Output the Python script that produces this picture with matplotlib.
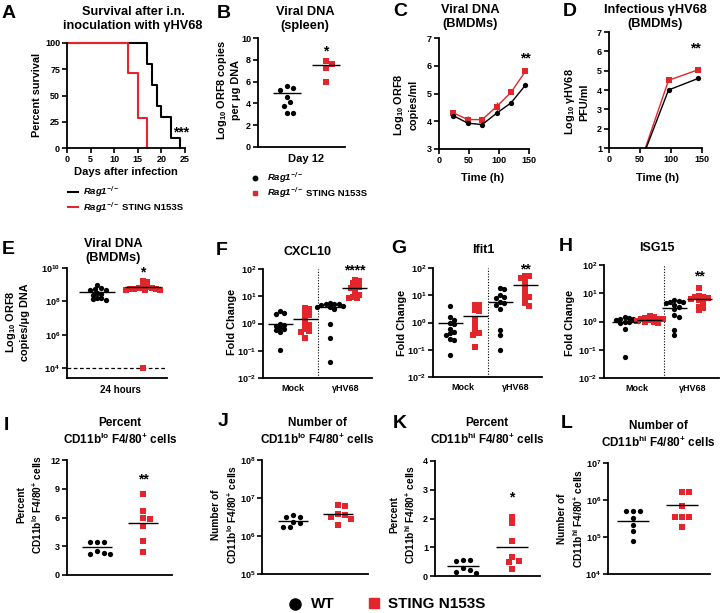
import numpy as np
import matplotlib
matplotlib.use("Agg")
import matplotlib.pyplot as plt
from matplotlib.lines import Line2D
from matplotlib.ticker import NullLocator

plt.rcParams['font.family'] = ['Liberation Sans', 'DejaVu Sans']
plt.rcParams['font.weight'] = 'bold'
plt.rcParams['axes.labelweight'] = 'bold'
plt.rcParams['mathtext.default'] = 'regular'

RED = '#e3262b'
BLK = '#000000'

# ---------------- data ----------------
# A: survival
surv_days_wt = [0, 17, 18, 19, 20, 22, 24]
surv_pct_wt = [100, 80, 60, 40, 30, 10, 0]
surv_days_mut = [0, 13, 15, 17]
surv_pct_mut = [100, 71.4, 28.6, 0]

# B: viral DNA spleen (log10)
b_wt = [5.4, 5.2, 5.6, 4.6, 4.15, 3.75, 3.1, 3.15]
b_mut = [7.65, 7.87, 7.25, 5.98]
b_lines = [5.0, 7.5]

# C: viral DNA BMDMs time course (log10)
c_time = [24, 48, 72, 96, 120, 144]
c_wt = [4.2, 3.93, 3.88, 4.29, 4.66, 5.3]
c_wt_err = [0.05, 0.06, 0.1, 0.08, 0.04, 0.04]
c_mut = [4.3, 4.06, 4.06, 4.53, 5.04, 5.8]
c_mut_err = [0.05, 0.12, 0.05, 0.15, 0.05, 0.05]

# D: infectious virus (log10 PFU)
d_time = [48, 96, 144]
d_wt = [0, 4.0, 4.6]
d_wt_err = [0, 0.12, 0.06]
d_mut = [0, 4.5, 5.05]
d_mut_err = [0, 0.05, 0.08]

# E: viral DNA BMDMs 24 h (log10)
e_wt = [8.8, 8.7, 8.7, 8.75, 8.95, 8.45, 8.2, 8.1, 8.15, 8.2, 8.4, 8.5]
e_mut = [9.15, 9.23, 8.85, 8.73, 8.7, 8.73, 8.8, 8.85, 8.75, 8.65, 8.7, 8.8, 4.0]
e_lines = [8.55, 8.85]
e_limit = 4.0

# F/G/H: fold change (log10), groups: mock WT, mock mut, gHV68 WT, gHV68 mut
f_groups = [
    [0.4, 0.45, 0.35, 0.0, -0.1, -0.2, -0.3, -0.25, -0.15, -0.05, -0.98],
    [0.56, 0.52, 0.38, 0.2, 0.0, -0.05, -0.2, -0.3, -0.27, -0.55, 0.3],
    [0.75, 0.7, 0.65, 0.7, 0.6, 0.72, 0.68, 0.62, 0.55, -0.02, -0.55, -1.43],
    [1.55, 1.6, 1.48, 1.33, 1.3, 1.35, 1.11, 1.05, 0.93, 0.95, 0.98],
]
f_lines = [0.0, 0.17, 0.6, 1.3]
g_groups = [
    [0.62, 0.2, 0.1, 0.0, -0.05, -0.25, -0.35, -0.4, -0.45, -0.65, -0.62, -1.2],
    [0.65, 0.65, 0.45, 0.42, 0.12, -0.08, -0.33, -0.45, -0.4, -0.9],
    [1.24, 1.27, 1.0, 0.9, 0.95, 0.7, 0.65, 0.75, 0.5, -0.29, -0.47, -1.02],
    [1.7, 1.65, 1.7, 1.55, 1.35, 0.9, 0.95, 0.7, 0.62, 1.2, 1.05],
]
g_lines = [-0.02, 0.24, 0.75, 1.36]
h_groups = [
    [0.15, 0.12, 0.08, 0.05, 0.0, -0.05, 0.03, 0.1, -0.02, -0.28, -1.25],
    [0.18, 0.15, 0.12, 0.1, 0.08, 0.05, 0.03, 0.0, -0.03, -0.05, 0.1],
    [0.75, 0.7, 0.65, 0.6, 0.72, 0.5, 0.45, 0.24, 0.17, -0.47, -0.3, 0.68],
    [1.18, 0.88, 0.85, 0.9, 0.82, 0.8, 0.65, 0.53, 0.47, 0.4, 0.75],
]
h_lines = [0.0, 0.05, 0.47, 0.79]

# I-L: macrophage populations
i_wt = [3.4, 3.4, 3.4, 2.3, 2.2, 2.2, 2.55]
i_mut = [8.5, 6.7, 5.9, 5.8, 5.1, 3.55, 2.37]
i_lines = [2.92, 5.4]
j_wt = [6.49, 6.51, 6.54, 6.38, 6.25, 6.25, 6.35]          # log10
j_mut = [6.79, 6.82, 6.55, 6.58, 6.49, 6.29, 6.45]
j_lines = [6.40, 6.59]
k_wt = [0.51, 0.55, 0.57, 0.29, 0.22, 0.1, 0.14]
k_mut = [2.06, 1.83, 1.21, 0.66, 0.51, 0.49, 0.23]
k_lines = [0.34, 1.01]
l_wt = [5.69, 5.71, 5.69, 5.51, 5.33, 5.15, 4.9]            # log10
l_mut = [6.21, 6.21, 5.83, 5.54, 5.54, 5.55, 5.27]
l_lines = [5.44, 5.86]

fc_cats = ['Mock', 'γHV68']

# ---------------- layout helpers ----------------
W, H = 720, 613
fig = plt.figure(figsize=(W / 100, H / 100), dpi=100)


def ax_px(l, t, r, b):
    return fig.add_axes([l / W, 1 - b / H, (r - l) / W, (b - t) / H])


def style(ax, log=False):
    for s in ['top', 'right']:
        ax.spines[s].set_visible(False)
    for s in ['left', 'bottom']:
        ax.spines[s].set_linewidth(1.3)
    ax.tick_params(width=1.2, length=3.5, labelsize=6.5, pad=1.5)
    if log:
        ax.yaxis.set_minor_locator(NullLocator())


def ftext(x, y, s, **kw):
    return fig.text(x / W, 1 - y / H, s, **kw)


def swarm_x(ax, xc, yvals, d=3.8):
    yvals = np.asarray(yvals, float)
    pts = ax.transData.transform(np.column_stack([np.full(len(yvals), xc), yvals]))
    ypx = pts[:, 1]
    x0 = pts[0, 0]
    placed = []
    xs = np.zeros(len(yvals))
    for i in np.argsort(-ypx):
        k = 0
        off = None
        while off is None:
            cands = [0.0] if k == 0 else [k * d * 0.6, -k * d * 0.6]
            for c in cands:
                if all((c - px) ** 2 + (ypx[i] - py) ** 2 >= d * d for px, py in placed):
                    off = c
                    break
            k += 1
        placed.append((off, ypx[i]))
        xs[i] = x0 + off
    back = ax.transData.inverted().transform(np.column_stack([xs, ypx]))
    return back[:, 0]


def dots(ax, xc, vals, color, marker, hw, line_val, ms=3.8, d=4.6):
    xs = swarm_x(ax, xc, vals, d=d)
    ax.plot(xs, vals, linestyle='none', marker=marker, color=color, ms=ms,
            markeredgewidth=0, clip_on=False, zorder=3)
    ax.hlines(line_val, xc - hw, xc + hw, color=BLK, lw=1.0, zorder=4)


TITLE = dict(fontsize=9.2, ha='center', va='center', linespacing=1.15)
TITLE2 = dict(fontsize=8.5, ha='center', va='center', linespacing=1.2)
YLAB = dict(fontsize=7.8, ha='center', va='center', rotation=90, linespacing=1.3)
YLAB2 = dict(fontsize=7.3, ha='center', va='center', rotation=90, linespacing=1.3)
LET = dict(fontsize=14, ha='center', va='center')
STAR = dict(fontsize=10, ha='center', va='center')

# ---------------- A ----------------
ax = ax_px(67, 43, 185, 148)
style(ax)
ax.plot(surv_days_wt, surv_pct_wt, drawstyle='steps-post', color=BLK, lw=1.5, clip_on=False)
ax.plot(surv_days_mut, surv_pct_mut, drawstyle='steps-post', color=RED, lw=1.5, clip_on=False)
ax.set_xlim(0, 25)
ax.set_ylim(0, 100)
ax.set_xticks([0, 5, 10, 15, 20, 25])
ax.set_yticks([0, 25, 50, 75, 100])
ax.text(24.2, 15, '***', **STAR)
ftext(126, 172, 'Days after infection', fontsize=8, ha='center', va='center')
ftext(37, 95, 'Percent survival', **YLAB)
ftext(133, 19, 'Survival after i.n.\ninoculation with γHV68', **TITLE)
ftext(8.5, 13, 'A', **LET)

# legend for A
fig.add_artist(Line2D([68 / W, 78 / W], [1 - 192 / H] * 2, color=BLK, lw=1.5, transform=fig.transFigure))
fig.add_artist(Line2D([68 / W, 78 / W], [1 - 207 / H] * 2, color=RED, lw=1.5, transform=fig.transFigure))
ftext(83, 192, r'Rag1$^{-/-}$', fontsize=6.8, style='italic', va='center')
ta = ftext(83, 207.5, r'Rag1$^{-/-}$', fontsize=6.8, style='italic', va='center')

# ---------------- B ----------------
ax = ax_px(258, 38, 345, 147)
style(ax)
ax.set_xlim(-0.74, 1.49)
ax.set_ylim(0, 10)
ax.set_yticks([0, 2, 4, 6, 8, 10])
ax.set_xticks([0.5])
ax.set_xticklabels(['Day 12'], fontsize=8)
ax.tick_params(axis='x', length=0, pad=5)
dots(ax, 0, b_wt, BLK, 'o', 0.36, b_lines[0], d=5.5)
dots(ax, 1, b_mut, RED, 's', 0.36, b_lines[1], d=5.5)
ax.text(1, 8.8, '*', **STAR)
ftext(228, 90, 'Log$_{10}$ ORF8 copies\nper μg DNA', **YLAB)
ftext(305, 19, 'Viral DNA\n(spleen)', **TITLE)
ftext(224, 13, 'B', **LET)
# legend for B
fig.add_artist(Line2D([255 / W], [1 - 178 / H], marker='o', ms=3.2, color=BLK, lw=0, transform=fig.transFigure))
fig.add_artist(Line2D([255 / W], [1 - 193 / H], marker='s', ms=3.2, color=RED, lw=0, transform=fig.transFigure))
ftext(267, 178, r'Rag1$^{-/-}$', fontsize=6.8, style='italic', va='center')
tb = ftext(267, 193, r'Rag1$^{-/-}$', fontsize=6.8, style='italic', va='center')

# ---------------- C ----------------
ax = ax_px(439, 38, 529, 149)
style(ax)
ax.errorbar(c_time, c_wt, yerr=c_wt_err, color=BLK, marker='o', ms=3.8, lw=1.0,
            capsize=1.8, elinewidth=1.0, markeredgewidth=0, zorder=3)
ax.errorbar(c_time, c_mut, yerr=c_mut_err, color=RED, marker='s', ms=3.8, lw=1.0,
            capsize=1.8, elinewidth=1.0, markeredgewidth=0, zorder=2)
ax.set_xlim(0, 150)
ax.set_ylim(3, 7)
ax.set_xticks([0, 50, 100, 150])
ax.set_yticks([3, 4, 5, 6, 7])
ax.text(144, 6.25, '**', **STAR)
ftext(483, 178, 'Time (h)', fontsize=8, ha='center', va='center')
ftext(405, 105, 'Log$_{10}$ ORF8\ncopies/ml', **YLAB)
ftext(470, 17, 'Viral DNA\n(BMDMs)', **TITLE)
ftext(400, 12, 'C', **LET)

# ---------------- D ----------------
ax = ax_px(609, 32, 702, 148)
style(ax)
ax.errorbar(d_time, d_wt, yerr=d_wt_err, color=BLK, marker='o', ms=3.8, lw=1.0,
            capsize=1.8, elinewidth=1.0, markeredgewidth=0, zorder=3)
ax.errorbar(d_time, d_mut, yerr=d_mut_err, color=RED, marker='s', ms=3.8, lw=1.0,
            capsize=1.8, elinewidth=1.0, markeredgewidth=0, zorder=2)
ax.set_xlim(0, 150)
ax.set_ylim(1, 7)
ax.set_xticks([0, 50, 100, 150])
ax.set_yticks([1, 2, 3, 4, 5, 6, 7])
ax.text(140, 6.15, '**', **STAR)
ftext(658, 178, 'Time (h)', fontsize=8, ha='center', va='center')
ftext(576, 102, 'Log$_{10}$ γHV68\nPFU/ml', **YLAB)
ftext(655, 17, 'Infectious γHV68\n(BMDMs)', **TITLE)
ftext(570, 12, 'D', **LET)

# ---------------- E ----------------
ax = ax_px(67, 268, 167, 378)
style(ax, log=True)
ax.set_yscale('log')
ax.set_ylim(10 ** 3.4, 1e10)
ax.set_yticks([1e4, 1e6, 1e8, 1e10])
ax.yaxis.set_minor_locator(NullLocator())
ax.set_xlim(-0.65, 1.52)
ax.set_xticks([0.5])
ax.set_xticklabels(['24 hours'], fontsize=7)
ax.tick_params(axis='x', length=0, pad=5)
ax.axhline(10 ** e_limit, color=BLK, lw=0.9, ls=(0, (3, 2)), zorder=1)
ew = 10 ** np.array(e_wt)
em = 10 ** np.array(e_mut)
dots(ax, 0, ew, BLK, 'o', 0.4, 10 ** e_lines[0], d=3.6)
dots(ax, 1, em, RED, 's', 0.4, 10 ** e_lines[1], d=3.6)
ax.text(1, 10 ** 9.75, '*', **STAR)
ftext(17, 322, 'Log$_{10}$ ORF8\ncopies/μg DNA', **YLAB)
ftext(113, 251, 'Viral DNA\n(BMDMs)', **TITLE)
ftext(8, 249, 'E', **LET)


# ---------------- F, G, H ----------------
def fold_panel(rect, xl, groups, lines, sep, cat_x, title, tpos, ylpos, stars, spos):
    ax = ax_px(*rect)
    style(ax, log=True)
    ax.set_yscale('log')
    ax.set_ylim(1e-2, 1e2)
    ax.set_yticks([1e-2, 1e-1, 1, 1e1, 1e2])
    ax.yaxis.set_minor_locator(NullLocator())
    ax.set_xlim(*xl)
    ax.set_xticks(cat_x)
    ax.set_xticklabels(fc_cats, fontsize=6.5)
    ax.tick_params(axis='x', length=0, pad=4)
    ax.axvline(sep, color=BLK, lw=0.8, ls=(0, (1, 1.5)), zorder=1)
    cols = [BLK, RED, BLK, RED]
    mks = ['o', 's', 'o', 's']
    for gi, (vals, lv) in enumerate(zip(groups, lines)):
        v = 10 ** np.array(vals)
        dots(ax, gi, v, cols[gi], mks[gi], 0.5, 10 ** lv, d=3.6)
    ax.text(3, 10 ** spos, stars, **STAR)
    ftext(ylpos[0], ylpos[1], 'Fold Change', **YLAB)
    ftext(tpos[0], tpos[1], title, fontsize=9, ha='center', va='center')
    return ax


fold_panel((263, 269, 372, 378), (-0.68, 3.68), f_groups, f_lines, 1.52, [0.5, 2.65],
           'CXCL10', (308, 252), (232, 322), '****', 1.95)
ftext(222, 250, 'F', **LET)
fold_panel((433, 268, 542, 377), (-0.68, 3.68), g_groups, g_lines, 1.52, [0.5, 2.65],
           'Ifit1', (483, 250), (402, 323), '**', 1.95)
ftext(399, 248, 'G', **LET)
fold_panel((604, 265, 719, 378), (-0.84, 3.8), h_groups, h_lines, 1.6, [0.5, 2.75],
           'ISG15', (657, 248), (570, 323), '**', 1.6)
ftext(566, 247, 'H', **LET)


# ---------------- I-L ----------------
def two_group(rect, xl, wt, mut, lines, log, ylim, yticks):
    ax = ax_px(*rect)
    style(ax, log=log)
    if log:
        ax.set_yscale('log')
        wt = 10 ** np.array(wt)
        mut = 10 ** np.array(mut)
        lines = [10 ** v for v in lines]
        ax.yaxis.set_minor_locator(NullLocator())
    ax.set_ylim(*ylim)
    ax.set_yticks(yticks)
    ax.set_xlim(*xl)
    ax.set_xticks([])
    dots(ax, 0, wt, BLK, 'o', 0.33, lines[0], d=5.5)
    dots(ax, 1, mut, RED, 's', 0.33, lines[1], d=5.5)
    return ax


ax = two_group((67, 460, 172, 575), (-0.65, 1.63), i_wt, i_mut, i_lines, False, (0, 12), [0, 3, 6, 9, 12])
ax.text(1, 10.0, '**', **STAR)
ftext(30, 505, 'Percent\nCD11b$^{lo}$ F4/80$^{+}$ cells', **YLAB2)
ftext(120, 432, 'Percent\nCD11b$^{lo}$ F4/80$^{+}$ cells', **TITLE2)
ftext(6, 425, 'I', **LET)

ax = two_group((262, 460, 368, 574), (-0.69, 1.67), j_wt, j_mut, j_lines, True, (1e5, 1e8), [1e5, 1e6, 1e7, 1e8])
ftext(225, 515, 'Number of\nCD11b$^{lo}$ F4/80$^{+}$ cells', **YLAB2)
ftext(317, 432, 'Number of\nCD11b$^{lo}$ F4/80$^{+}$ cells', **TITLE2)
ftext(223, 422, 'J', **LET)

ax = two_group((435, 461, 540, 576), (-0.57, 1.57), k_wt, k_mut, k_lines, False, (0, 4), [0, 1, 2, 3, 4])
ax.text(1, 2.72, '*', **STAR)
ftext(403, 515, 'Percent\nCD11b$^{hi}$ F4/80$^{+}$ cells', **YLAB2)
ftext(487, 432, 'Percent\nCD11b$^{hi}$ F4/80$^{+}$ cells', **TITLE2)
ftext(400, 423, 'K', **LET)

ax = two_group((608, 463, 710, 574), (-0.51, 1.57), l_wt, l_mut, l_lines, True, (1e4, 1e7), [1e4, 1e5, 1e6, 1e7])
ftext(571, 519, 'Number of\nCD11b$^{hi}$ F4/80$^{+}$ cells', **YLAB2)
ftext(658, 435, 'Number of\nCD11b$^{hi}$ F4/80$^{+}$ cells', **TITLE2)
ftext(567, 423, 'L', **LET)

# ---------------- bottom legend ----------------
fig.add_artist(Line2D([295 / W], [1 - 604 / H], marker='o', ms=8, color=BLK, lw=0, transform=fig.transFigure))
ftext(311, 604, 'WT', fontsize=11, va='center')
fig.add_artist(Line2D([374 / W], [1 - 603 / H], marker='s', ms=7.5, color=RED, lw=0, transform=fig.transFigure))
ftext(388, 604, 'STING N153S', fontsize=11, va='center')

# append " STING N153S" after italic Rag1 labels
fig.canvas.draw()
r = fig.canvas.get_renderer()
for t, y in [(ta, 207.5), (tb, 193)]:
    bb = t.get_window_extent(renderer=r)
    fig.text((bb.x1 + 3) / W, 1 - y / H, 'STING N153S', fontsize=6.8, va='center')

fig.savefig('out.png', dpi=100)
